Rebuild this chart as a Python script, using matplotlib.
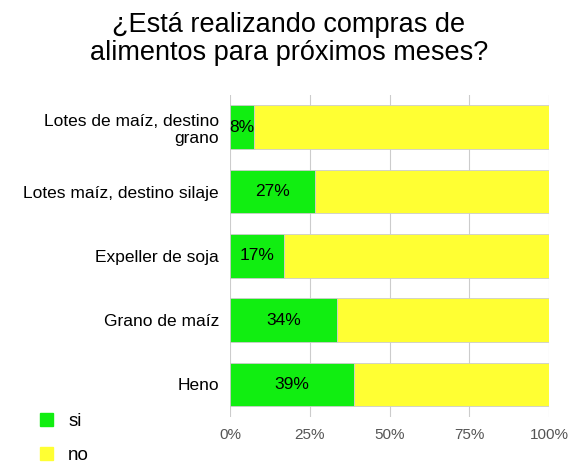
import matplotlib
matplotlib.use("Agg")
import matplotlib.pyplot as plt
from matplotlib.patches import Patch

plt.rcParams['font.family'] = ['Liberation Sans', 'DejaVu Sans']

categories = ["Lotes de maíz, destino\ngrano", "Lotes maíz, destino silaje", "Expeller de soja", "Grano de maíz", "Heno"]
si = [8, 27, 17, 34, 39]
si_draw = [7.5, 26.5, 17, 33.5, 39]
no = [100 - v for v in si_draw]
ticks = [0, 25, 50, 75, 100]

green = "#11ee11"
yellow = "#ffff33"

fig = plt.figure(figsize=(5.78, 4.76), dpi=100)
ax = fig.add_axes([0.398, 0.125, 0.552, 0.675])
y = list(range(len(categories)))
ax.barh(y, si_draw, height=0.68, color=green, edgecolor="#cccccc", linewidth=0.6, zorder=3)
ax.barh(y, no, left=si_draw, height=0.68, color=yellow, edgecolor="#cccccc", linewidth=0.6, zorder=3)
for yi, v, d in zip(y, si, si_draw):
    ax.text(max(d / 2, 3.8), yi, f"{v}%", ha="center", va="center", fontsize=12.5, zorder=4)
ax.set_yticks(y)
ax.set_yticklabels(categories, fontsize=12.5)
ax.set_ylim(4.5, -0.5)
ax.set_xlim(0, 100)
ax.set_xticks(ticks)
ax.set_xticklabels([f"{t}%" for t in ticks], fontsize=11, color="#555555")
ax.grid(axis="x", color="#cccccc", linewidth=0.8, zorder=0)
for s in ax.spines.values():
    s.set_visible(False)
ax.tick_params(length=0, pad=8)
fig.suptitle("¿Está realizando compras de\nalimentos para próximos meses?", fontsize=19.5, y=0.975, linespacing=1.1)
fig.legend(handles=[Patch(color=green), Patch(color=yellow)], labels=["si", "no"],
           loc="lower left", bbox_to_anchor=(0.04, -0.01), frameon=False, fontsize=13.5,
           handlelength=0.7, handleheight=0.7, labelspacing=0.9)
fig.savefig("out.png", dpi=100)
